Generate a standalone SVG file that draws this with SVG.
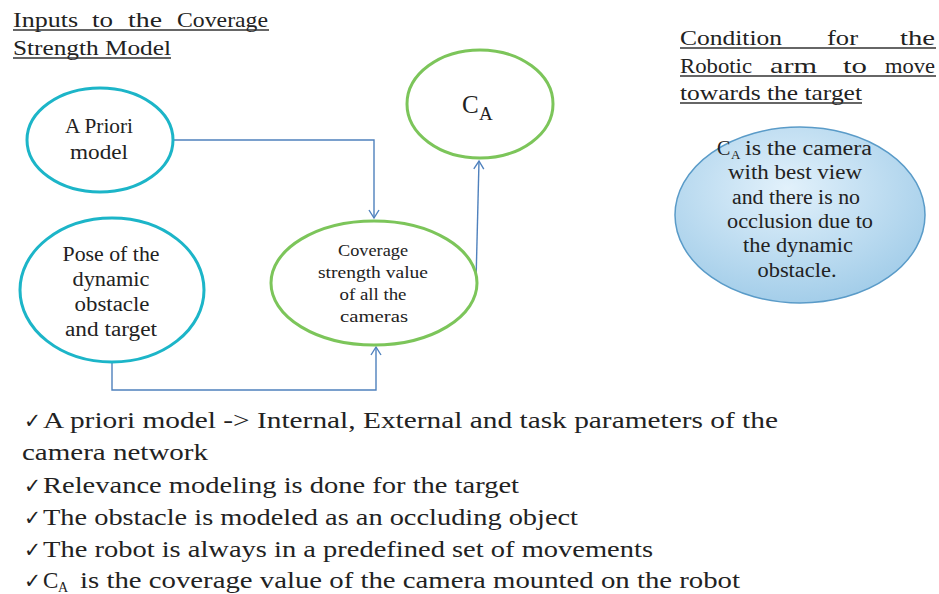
<svg xmlns="http://www.w3.org/2000/svg" width="939" height="594" viewBox="0 0 939 594" font-family="'Liberation Serif', 'DejaVu Serif', serif">
<style>
text{font-family:'Liberation Serif','DejaVu Serif',serif;fill:#222}
.h{font-size:22px}
.n{font-size:20px;text-anchor:middle}
.s{font-size:16.5px;text-anchor:middle}
.b{font-size:23px}
.ck{font-size:21px;font-family:'DejaVu Sans',sans-serif}
.ul{stroke:#333;stroke-width:1.3}
.teal{fill:#fff;stroke:#1cb5c8;stroke-width:3}
.green{fill:#fff;stroke:#7cc55a;stroke-width:3}
.con{fill:none;stroke:#4f81bd;stroke-width:1.4}
</style>
<defs>
<marker id="arr" markerWidth="12" markerHeight="12" refX="9" refY="6" orient="auto" markerUnits="userSpaceOnUse">
<path d="M1,1 L9,6 L1,11" fill="none" stroke="#4f81bd" stroke-width="1.4"/>
</marker>
<radialGradient id="bg" cx="0.45" cy="0.35" r="0.7">
<stop offset="0" stop-color="#e2f1fb"/>
<stop offset="1" stop-color="#9fcbe8"/>
</radialGradient>
</defs>
<rect width="939" height="594" fill="#fff"/>
<g id="title-left">
<text class="h" x="13" y="27" textLength="65" lengthAdjust="spacingAndGlyphs">Inputs</text>
<text class="h" x="92" y="27" textLength="21" lengthAdjust="spacingAndGlyphs">to</text>
<text class="h" x="128" y="27" textLength="34" lengthAdjust="spacingAndGlyphs">the</text>
<text class="h" x="177" y="27" textLength="91" lengthAdjust="spacingAndGlyphs">Coverage</text>
<text class="h" x="13" y="55" textLength="158" lengthAdjust="spacingAndGlyphs">Strength Model</text>
<line class="ul" x1="13" y1="30" x2="269" y2="30"/>
<line class="ul" x1="13" y1="58" x2="171" y2="58"/>
</g>
<g id="title-right">
<text class="h" x="680" y="45" textLength="102" lengthAdjust="spacingAndGlyphs">Condition</text>
<text class="h" x="827" y="45" textLength="31" lengthAdjust="spacingAndGlyphs">for</text>
<text class="h" x="900" y="45" textLength="35" lengthAdjust="spacingAndGlyphs">the</text>
<text class="h" x="680" y="73" textLength="72" lengthAdjust="spacingAndGlyphs">Robotic</text>
<text class="h" x="770" y="73" textLength="47" lengthAdjust="spacingAndGlyphs">arm</text>
<text class="h" x="843" y="73" textLength="24" lengthAdjust="spacingAndGlyphs">to</text>
<text class="h" x="885" y="73" textLength="50" lengthAdjust="spacingAndGlyphs">move</text>
<text class="h" x="680" y="100" textLength="182" lengthAdjust="spacingAndGlyphs">towards the target</text>
<line class="ul" x1="680" y1="48" x2="936" y2="48"/>
<line class="ul" x1="680" y1="76" x2="936" y2="76"/>
<line class="ul" x1="680" y1="103" x2="862" y2="103"/>
</g>
<g id="connectors">
<polyline class="con" points="173,140 374,140 374,218" marker-end="url(#arr)"/>
<polyline class="con" points="112,363 112,390 376,390 376,347" marker-end="url(#arr)"/>
<line class="con" x1="476" y1="282" x2="479" y2="161" marker-end="url(#arr)"/>
</g>
<g id="node-apriori">
<ellipse class="teal" cx="100" cy="140" rx="73" ry="52"/>
<text class="n" x="99" y="133" textLength="68" lengthAdjust="spacingAndGlyphs">A Priori</text>
<text class="n" x="99" y="159" textLength="58" lengthAdjust="spacingAndGlyphs">model</text>
</g>
<g id="node-pose">
<ellipse class="teal" cx="112" cy="290" rx="92" ry="72"/>
<text class="n" x="111" y="261" textLength="97" lengthAdjust="spacingAndGlyphs">Pose of the</text>
<text class="n" x="111" y="286" textLength="77" lengthAdjust="spacingAndGlyphs">dynamic</text>
<text class="n" x="112" y="311" textLength="75" lengthAdjust="spacingAndGlyphs">obstacle</text>
<text class="n" x="111" y="336" textLength="92" lengthAdjust="spacingAndGlyphs">and target</text>
</g>
<g id="node-coverage">
<ellipse class="green" cx="374" cy="283" rx="103" ry="62"/>
<text class="s" x="373" y="256" textLength="70" lengthAdjust="spacingAndGlyphs">Coverage</text>
<text class="s" x="373" y="278" textLength="110" lengthAdjust="spacingAndGlyphs">strength value</text>
<text class="s" x="373" y="300" textLength="67" lengthAdjust="spacingAndGlyphs">of all the</text>
<text class="s" x="374" y="322" textLength="68" lengthAdjust="spacingAndGlyphs">cameras</text>
</g>
<g id="node-ca">
<ellipse class="green" cx="480" cy="104" rx="73" ry="54"/>
<text x="462" y="113" style="font-size:25px">C</text>
<text x="479" y="120" style="font-size:19px">A</text>
</g>
<g id="node-condition">
<ellipse cx="800" cy="215" rx="125" ry="88" fill="url(#bg)" stroke="#5a9bc8" stroke-width="1.5"/>
<text x="717" y="155" style="font-size:20px">C</text>
<text x="731" y="159" style="font-size:13px">A</text>
<text x="745" y="155" style="font-size:20px" textLength="127" lengthAdjust="spacingAndGlyphs">is the camera</text>
<text class="n" x="795" y="179" textLength="134" lengthAdjust="spacingAndGlyphs">with best view</text>
<text class="n" x="796" y="204" textLength="128" lengthAdjust="spacingAndGlyphs">and there is no</text>
<text class="n" x="800" y="228" textLength="146" lengthAdjust="spacingAndGlyphs">occlusion due to</text>
<text class="n" x="798" y="252" textLength="110" lengthAdjust="spacingAndGlyphs">the dynamic</text>
<text class="n" x="797" y="277" textLength="79" lengthAdjust="spacingAndGlyphs">obstacle.</text>
</g>
<g id="notes">
<text class="ck" x="24" y="428" textLength="17" lengthAdjust="spacingAndGlyphs">✓</text>
<text class="b" x="43" y="428" textLength="735" lengthAdjust="spacingAndGlyphs">A priori model -&gt; Internal, External and task parameters of the</text>
<text class="b" x="22" y="460" textLength="186" lengthAdjust="spacingAndGlyphs">camera network</text>
<text class="ck" x="24" y="493" textLength="17" lengthAdjust="spacingAndGlyphs">✓</text>
<text class="b" x="43" y="493" textLength="476" lengthAdjust="spacingAndGlyphs">Relevance modeling is done for the target</text>
<text class="ck" x="24" y="525" textLength="17" lengthAdjust="spacingAndGlyphs">✓</text>
<text class="b" x="43" y="525" textLength="535" lengthAdjust="spacingAndGlyphs">The obstacle is modeled as an occluding object</text>
<text class="ck" x="24" y="557" textLength="17" lengthAdjust="spacingAndGlyphs">✓</text>
<text class="b" x="43" y="557" textLength="610" lengthAdjust="spacingAndGlyphs">The robot is always in a predefined set of movements</text>
<text class="ck" x="24" y="588" textLength="17" lengthAdjust="spacingAndGlyphs">✓</text>
<text class="b" x="43" y="588">C</text>
<text x="58" y="592" style="font-size:14px">A</text>
<text class="b" x="80" y="588" textLength="660" lengthAdjust="spacingAndGlyphs">is the coverage value of the camera mounted on the robot</text>
</g>
</svg>
